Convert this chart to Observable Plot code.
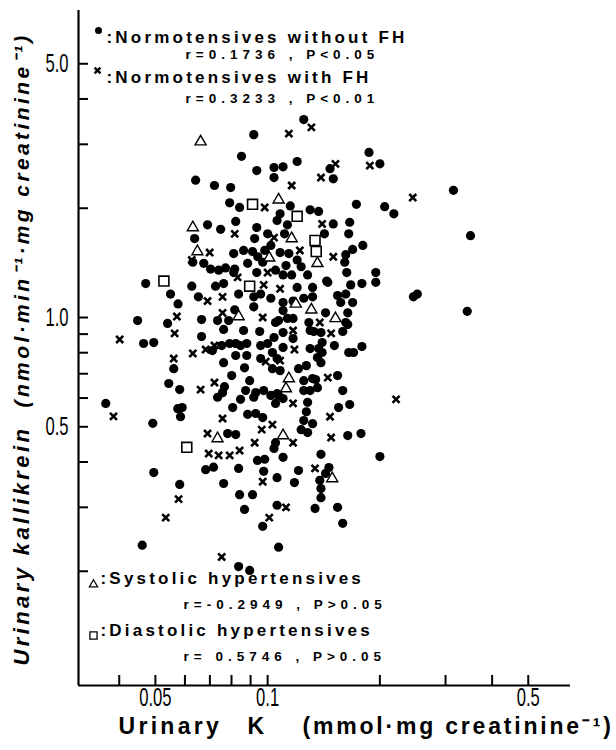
<!DOCTYPE html>
<html><head><meta charset="utf-8">
<script src="https://cdn.jsdelivr.net/npm/d3@7"></script>
<script src="https://cdn.jsdelivr.net/npm/@observablehq/plot@0.6"></script>
<style>
body{margin:0;background:#fff}
</style>
</head><body><div id="chart"></div>
<script>
// Urinary K (mmol/mg creatinine), Urinary kallikrein (nmol/min/mg creatinine)
const withoutFH = [
[0.125,3.51],[0.0918,3.19],[0.0851,2.78],[0.0935,2.54],[0.104,2.59],[0.110,2.60],[0.120,2.69],[0.104,2.43],[0.147,2.57],[0.150,2.41],[0.187,2.85],[0.200,2.65],[0.0641,2.39],[0.0720,2.31],[0.0796,2.28],[0.0791,2.07],[0.0841,2.01],[0.115,2.03],[0.130,1.98],[0.137,1.96],[0.108,1.93],[0.106,1.85],[0.315,2.24],[0.173,2.05],[0.206,2.02],[0.218,1.93],[0.0690,1.80],[0.0748,1.75],[0.0821,1.84],[0.0935,1.77],[0.100,1.70],[0.113,1.80],[0.111,1.70],[0.150,1.81],[0.166,1.83],[0.142,1.70],[0.165,1.70],[0.0637,1.65],[0.0923,1.65],[0.350,1.68],[0.169,1.54],[0.180,1.58],[0.162,1.49],[0.161,1.42],[0.163,1.33],[0.195,1.33],[0.179,1.24],[0.195,1.25],[0.167,1.23],[0.144,1.26],[0.246,1.14],[0.252,1.16],[0.343,1.04],
[0.0630,1.42],[0.0674,1.41],[0.0703,1.36],[0.0739,1.35],[0.0771,1.37],[0.0816,1.36],[0.0811,1.50],[0.0862,1.53],[0.0911,1.52],[0.0884,1.41],[0.0941,1.47],[0.0982,1.53],[0.102,1.58],[0.108,1.51],[0.114,1.50],[0.120,1.44],[0.123,1.38],[0.097,1.42],[0.112,1.39],[0.0935,1.33],[0.105,1.35],[0.110,1.31],[0.116,1.31],[0.128,1.31],[0.0471,1.24],[0.0549,1.16],[0.0626,1.22],[0.0725,1.22],[0.0762,1.24],[0.0836,1.16],[0.0811,1.33],[0.120,1.21],[0.132,1.21],[0.145,1.25],[0.0575,1.09],[0.0652,1.14],[0.0918,1.14],[0.0958,1.16],[0.102,1.13],[0.110,1.10],[0.117,1.11],[0.125,1.13],[0.132,1.14],[0.154,1.15],[0.162,1.16],[0.157,1.10],[0.169,1.10],[0.164,1.03],[0.0816,1.05],[0.0918,1.07],[0.110,1.045],[0.107,0.981],[0.113,0.994],[0.117,0.994],[0.105,0.969],[0.129,0.969],[0.143,1.03],[0.162,0.969],[0.0448,0.981],[0.0539,0.963],[0.0665,0.987],[0.0734,0.981],[0.0786,0.981],[0.0465,0.848],[0.0495,0.853],[0.0665,0.886],[0.0762,0.927],[0.0862,0.921],[0.0952,0.915],[0.104,0.881],[0.110,0.909],[0.117,0.875],[0.130,0.921],[0.139,0.909],[0.140,0.853],[0.151,0.837],[0.165,0.801],[0.130,0.821],[0.140,0.801],[0.0711,0.811],[0.0753,0.837],[0.0791,0.848],[0.0821,0.848],[0.0846,0.837],[0.0879,0.848],[0.0879,0.786],[0.0958,0.837],[0.100,0.848],[0.0821,0.786],[0.0867,0.727],[0.0762,0.751],[0.0958,0.771],[0.103,0.801],[0.106,0.771],[0.110,0.827],[0.121,0.723],[0.127,0.737],[0.103,0.723],[0.108,0.714],[0.136,0.776],[0.139,0.751],[0.170,0.801],[0.179,0.832],[0.0560,0.723],[0.0543,0.658],[0.0581,0.633],[0.0801,0.692],[0.0895,0.670],[0.0766,0.645],[0.0757,0.621],[0.0734,0.603],[0.0873,0.629],[0.0929,0.621],[0.0976,0.629],[0.102,0.610],[0.106,0.617],[0.110,0.598],[0.125,0.670],[0.132,0.679],[0.136,0.641],[0.125,0.629],[0.130,0.629],[0.154,0.692],[0.159,0.629],[0.1345,0.675],[0.0368,0.580],[0.0492,0.511],[0.0574,0.561],[0.0584,0.533],[0.0590,0.565],[0.0806,0.565],[0.0846,0.595],[0.0918,0.603],[0.0884,0.541],[0.0929,0.544],[0.0970,0.530],[0.107,0.610],[0.105,0.580],[0.128,0.584],[0.127,0.550],[0.125,0.520],[0.132,0.510],[0.123,0.491],[0.128,0.482],[0.155,0.565],[0.166,0.576],[0.164,0.473],[0.178,0.479],[0.0781,0.479],[0.0821,0.476],[0.105,0.452],[0.104,0.436],[0.0939,0.404],[0.0982,0.407],[0.110,0.412],[0.139,0.420],[0.200,0.414],[0.0682,0.381],[0.0716,0.387],[0.0836,0.384],[0.0976,0.377],[0.106,0.362],[0.121,0.379],[0.118,0.351],[0.146,0.386],[0.143,0.372],[0.138,0.356],[0.139,0.338],[0.139,0.319],[0.0495,0.374],[0.0581,0.347],[0.0762,0.349],[0.0841,0.325],[0.0911,0.325],[0.0867,0.296],[0.106,0.304],[0.134,0.298],[0.154,0.300],[0.159,0.271],[0.097,0.266],[0.0461,0.236],[0.107,0.233],[0.0836,0.206],[0.0895,0.201],[0.159,0.915],[0.164,0.956],[0.133,0.915],[0.137,0.821]
];
const withFH = [
[0.114,3.21],[0.131,3.34],[0.152,2.65],[0.139,2.43],[0.116,2.31],[0.188,2.62],[0.245,2.14],[0.0982,2.01],[0.140,1.81],[0.0816,1.70],[0.104,1.66],[0.0699,1.51],[0.0626,1.44],[0.150,1.47],[0.122,1.53],[0.0831,1.29],[0.100,1.33],[0.0976,1.23],[0.108,1.20],[0.0690,1.11],[0.0757,1.14],[0.0757,1.03],[0.0970,1.00],[0.138,0.969],[0.0571,1.006],[0.0563,0.904],[0.0401,0.870],[0.117,0.921],[0.148,0.904],[0.0682,0.816],[0.0720,0.837],[0.0630,0.796],[0.0988,0.756],[0.108,0.761],[0.118,0.816],[0.0560,0.771],[0.0720,0.662],[0.0661,0.633],[0.145,0.683],[0.0386,0.534],[0.0757,0.527],[0.103,0.507],[0.0964,0.491],[0.117,0.580],[0.147,0.533],[0.148,0.467],[0.0690,0.479],[0.0923,0.452],[0.117,0.452],[0.0695,0.422],[0.0739,0.417],[0.0791,0.417],[0.0841,0.430],[0.134,0.384],[0.221,0.595],[0.097,0.353],[0.0577,0.316],[0.112,0.300],[0.0533,0.281],[0.101,0.281],[0.0753,0.219]
];
const systolic = [
[0.0661,3.05],[0.107,2.11],[0.0630,1.77],[0.116,1.65],[0.0648,1.52],[0.101,1.46],[0.136,1.41],[0.119,1.09],[0.131,1.05],[0.152,0.994],[0.0836,1.006],[0.114,0.679],[0.112,0.637],[0.0734,0.464],[0.110,0.473],[0.149,0.360]
];
const diastolic = [
[0.0911,2.05],[0.120,1.90],[0.134,1.63],[0.135,1.52],[0.0527,1.26],[0.0895,1.22],[0.0607,0.439]
];
const xDomain = [0.0311, 0.649];
const yDomain = [0.0969, 7.01];
const xTicks = [0.04,0.05,0.06,0.07,0.08,0.09,0.1,0.2,0.3,0.4,0.5];
const yTicks = [0.2,0.3,0.4,0.5,0.6,0.7,0.8,0.9,1,2,3,4,5];
const xLabelTicks = [0.05,0.1,0.5];
const xLabelTexts = ["0.05","0.1","0.5"];
const yLabelTicks = [0.5,1,5];
const yLabelTexts = ["0.5","1.0","5.0"];
const legendGroups = [":Normotensives without FH", ":Normotensives with FH", ":Systolic hypertensives", ":Diastolic hypertensives"];
const legendStats = ["r=0.1736 , P<0.05", "r=0.3233 , P<0.01", "r=-0.2949 , P>0.05", "r= 0.5746 , P>0.05"];
const xTitle = ["Urinary", "K", "(mmol·mg creatinine⁻¹)"];
const yTitle = ["Urinary kallikrein", "(nmol·min⁻¹·mg creatinine⁻¹)"];

const sans = "'Liberation Sans', Arial, Helvetica, sans-serif";
const bold = {fontFamily: sans, fontWeight: "bold", fill: "black", textAnchor: "start"};

const chart = Plot.plot({
  width: 616, height: 750,
  marginLeft: 78, marginTop: 10, marginRight: 46, marginBottom: 65,
  style: {background: "white", color: "black", fontFamily: sans},
  x: {type: "log", domain: xDomain},
  y: {type: "log", domain: yDomain},
  marks: [
    Plot.ruleX([xDomain[0]], {strokeWidth: 2.2}),
    Plot.ruleY([yDomain[0]], {strokeWidth: 2.2}),
    Plot.tickX(xTicks, {x: d => d, insetTop: 665, strokeWidth: 2}),
    Plot.tickY(yTicks, {y: d => d, insetRight: 482, strokeWidth: 2}),
    Plot.axisX({ticks: xLabelTicks, tickSize: 0, tickPadding: 2, label: null,
      tickFormat: d => xLabelTexts[xLabelTicks.indexOf(d)], fontSize: 26}),
    Plot.axisY({ticks: yLabelTicks, tickSize: 0, tickPadding: 10, label: null,
      tickFormat: d => yLabelTexts[yLabelTicks.indexOf(d)], fontSize: 26}),
    Plot.dot(withoutFH, {x: d => d[0], y: d => d[1], r: 4.6, fill: "black", stroke: "none"}),
    Plot.dot(withFH, {x: d => d[0], y: d => d[1], symbol: "times", r: 3.3, stroke: "black", strokeWidth: 2.6}),
    Plot.dot(systolic, {x: d => d[0], y: d => d[1], symbol: "triangle", r: 4.1, fill: "white", stroke: "black", strokeWidth: 1.4}),
    Plot.dot(diastolic, {x: d => d[0], y: d => d[1], symbol: "square", r: 5.6, fill: "white", stroke: "black", strokeWidth: 1.6}),
    // legend (top)
    Plot.dot([0], {frameAnchor: "top-left", dx: 20, dy: 20, r: 3.5, fill: "black"}),
    Plot.dot([0], {frameAnchor: "top-left", dx: 19, dy: 60, symbol: "times", r: 2.8, stroke: "black", strokeWidth: 2.4}),
    Plot.text([legendGroups[0]], {...bold, frameAnchor: "top-left", dx: 28, dy: 20, fontSize: 17, text: d => d}),
    Plot.text([legendGroups[1]], {...bold, frameAnchor: "top-left", dx: 28, dy: 60, fontSize: 17, text: d => d}),
    Plot.text([legendStats[0]], {...bold, frameAnchor: "top-left", dx: 107, dy: 39, fontSize: 13.5, text: d => d}),
    Plot.text([legendStats[1]], {...bold, frameAnchor: "top-left", dx: 107, dy: 83, fontSize: 13.5, text: d => d}),
    // legend (bottom)
    Plot.dot([0], {frameAnchor: "bottom-left", dx: 15, dy: -101, symbol: "triangle", r: 3.1, fill: "white", stroke: "black", strokeWidth: 1.2}),
    Plot.dot([0], {frameAnchor: "bottom-left", dx: 15, dy: -50, symbol: "square", r: 4.0, fill: "white", stroke: "black", strokeWidth: 1.3}),
    Plot.text([legendGroups[2]], {...bold, frameAnchor: "bottom-left", dx: 22, dy: -102, fontSize: 17, text: d => d}),
    Plot.text([legendGroups[3]], {...bold, frameAnchor: "bottom-left", dx: 22, dy: -50, fontSize: 17, text: d => d}),
    Plot.text([legendStats[2]], {...bold, frameAnchor: "bottom-left", dx: 105, dy: -77, fontSize: 13.5, text: d => d}),
    Plot.text([legendStats[3]], {...bold, frameAnchor: "bottom-left", dx: 105, dy: -25, fontSize: 13.5, text: d => d}),
    // x title
    Plot.text([xTitle[0]], {...bold, frameAnchor: "bottom-left", dx: 40, dy: 48, fontSize: 23, text: d => d}),
    Plot.text([xTitle[1]], {...bold, frameAnchor: "bottom-left", dx: 169, dy: 48, fontSize: 23, text: d => d}),
    Plot.text([xTitle[2]], {...bold, frameAnchor: "bottom-left", dx: 224, dy: 48, fontSize: 23, text: d => d}),
    // y title
    Plot.text([yTitle[0]], {...bold, fontStyle: "italic", frameAnchor: "bottom-left", rotate: -90, dx: -50, dy: -20, fontSize: 22, text: d => d}),
    Plot.text([yTitle[1]], {...bold, fontStyle: "italic", frameAnchor: "bottom-left", rotate: -90, dx: -50, dy: -278, fontSize: 21, text: d => d})
  ]
});
document.getElementById("chart").appendChild(chart);

// letter spacing and condensed tick labels
const spacing = new Map();
legendGroups.forEach(t => spacing.set(t, 3.2));
legendStats.forEach(t => spacing.set(t, 5));
spacing.set(xTitle[0], 3.3); spacing.set(xTitle[1], 3); spacing.set(xTitle[2], 2.8);
spacing.set(yTitle[0], 3.4); spacing.set(yTitle[1], 3.4);
const tickLabelSet = new Set([...xLabelTexts, ...yLabelTexts]);
d3.select(chart).selectAll("text").each(function() {
  const t = this.textContent;
  if (spacing.has(t)) this.setAttribute("letter-spacing", spacing.get(t));
  else if (tickLabelSet.has(t)) {
    this.setAttribute("font-size", 26);
    this.style.fontSize = "26px";
    this.style.fontFamily = sans;
    this.style.fontWeight = "500";
    const w = this.getComputedTextLength();
    this.setAttribute("textLength", (w * 0.64).toFixed(1));
    this.setAttribute("lengthAdjust", "spacingAndGlyphs");
  }
});
</script>
</body></html>
